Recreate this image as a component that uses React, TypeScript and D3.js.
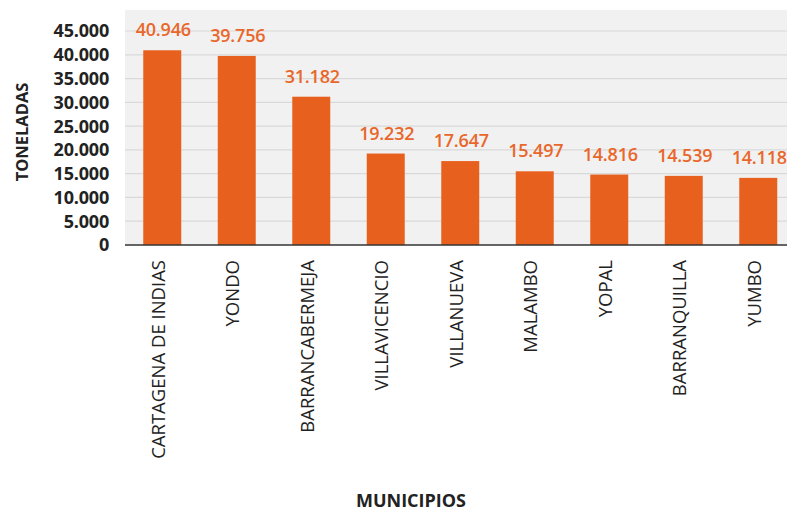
import React from "react";
import * as d3 from "d3";

const categories = ["CARTAGENA DE INDIAS", "YONDO", "BARRANCABERMEJA", "VILLAVICENCIO", "VILLANUEVA", "MALAMBO", "YOPAL", "BARRANQUILLA", "YUMBO"];
const values = [40946, 39756, 31182, 19232, 17647, 15497, 14816, 14539, 14118];
const yTicks = [0, 5000, 10000, 15000, 20000, 25000, 30000, 35000, 40000, 45000];
const yTitle = "TONELADAS";
const xTitle = "MUNICIPIOS";

const W = 787, H = 511;
const plotLeft = 125, plotRight = 795.5, plotTop = 10, baseY = 245;
const FONT = "'Open Sans', 'Noto Sans', sans-serif";

const fmt = (v: number) => {
  const s = String(v);
  return s.replace(/\B(?=(\d{3})+(?!\d))/g, ".");
};

export default function App() {
  const x = d3.scaleBand<string>().domain(categories).range([plotLeft, plotRight]).paddingInner(0.49).paddingOuter(0.245);
  const y = d3.scaleLinear().domain([0, 45000]).range([baseY, 31]);
  return (
    <svg width={W} height={H} style={{ position: "absolute", left: 0, top: 0, display: "block", overflow: "hidden" }} fontFamily={FONT}>
      <rect x={plotLeft} y={plotTop} width={W - plotLeft} height={baseY - plotTop} fill="#f1f1f1" />
      {yTicks.slice(1).map((t) => (
        <line key={t} x1={plotLeft} x2={W} y1={y(t)} y2={y(t)} stroke="#d9d9d9" strokeWidth={1.2} />
      ))}
      {categories.map((c, i) => (
        <rect key={c} x={x(c)} y={y(values[i])} width={x.bandwidth()} height={baseY - y(values[i])} fill="#e8601e" />
      ))}
      {categories.map((c, i) => (
        <text key={c} x={(x(c) as number) + x.bandwidth() / 2 + 1} y={y(values[i]) - 14} textAnchor="middle" fontSize={18} fontWeight={600} fill="#e9672a" letterSpacing={-0.2}>
          {fmt(values[i])}
        </text>
      ))}
      <line x1={plotLeft} x2={W} y1={baseY} y2={baseY} stroke="#333" strokeWidth={1.5} />
      {yTicks.map((t) => (
        <text key={t} x={109} y={y(t)} dy="0.36em" textAnchor="end" fontSize={18} fontWeight={700} fill="#222" letterSpacing={-0.2}>
          {fmt(t)}
        </text>
      ))}
      {categories.map((c) => {
        const cx = (x(c) as number) + x.bandwidth() / 2 - 4;
        return (
          <text key={c} transform={`translate(${cx},260) rotate(-90)`} textAnchor="end" dy="0.36em" fontSize={18.5} fill="#222">
            {c}
          </text>
        );
      })}
      <text transform={`translate(22,132) rotate(-90)`} textAnchor="middle" dy="0.36em" fontSize={16.5} fontWeight={700} fill="#222">
        {yTitle}
      </text>
      <text x={411} y={507} textAnchor="middle" fontSize={18} fontWeight={700} fill="#222">
        {xTitle}
      </text>
    </svg>
  );
}
